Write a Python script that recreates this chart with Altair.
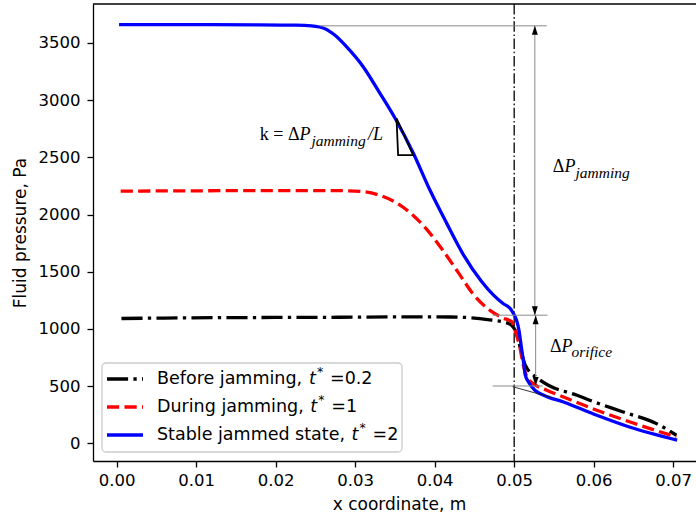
import altair as alt
import pandas as pd

# ---------------------------------------------------------------- data
# Fluid pressure along the channel axis (x in m, pressure in Pa)
x_before = [0.0006, 0.006, 0.012, 0.020, 0.028, 0.036, 0.042, 0.0450, 0.0470, 0.0486,
            0.0497, 0.0503, 0.0509, 0.0514, 0.0530, 0.0543, 0.0579, 0.0595, 0.0637,
            0.0679, 0.0704]
p_before = [1091, 1095, 1098, 1100, 1102, 1105, 1104, 1095, 1078, 1062,
            1030, 960, 800, 682, 566, 507, 420, 376, 274,
            172, 70]

x_during = [0.0005, 0.008, 0.016, 0.024, 0.028, 0.031, 0.033, 0.035, 0.037, 0.039,
            0.041, 0.043, 0.045, 0.047, 0.0486, 0.0497, 0.0501, 0.0507, 0.0512,
            0.0516, 0.0524, 0.0541, 0.0562, 0.0604, 0.0646, 0.0704]
p_during = [2205, 2207, 2209, 2210, 2209, 2200, 2170, 2110, 2010, 1870,
            1690, 1490, 1290, 1160, 1095, 1062, 989, 843, 668,
            580, 522, 464, 405, 289, 186, 55]

x_stable = [0.0003, 0.006, 0.012, 0.018, 0.0225, 0.0245, 0.0262, 0.0275, 0.0289, 0.0310,
            0.0331, 0.0350, 0.0373, 0.0394, 0.0415, 0.0436, 0.0459, 0.0474, 0.0486,
            0.0495, 0.0499, 0.0503, 0.0506, 0.0509, 0.0512, 0.0514, 0.0518, 0.0526,
            0.0537, 0.0562, 0.0604, 0.0646, 0.0705]
p_stable = [3660, 3660, 3660, 3659, 3656, 3649, 3625, 3565, 3468, 3293,
            3062, 2844, 2538, 2214, 1925, 1650, 1415, 1295, 1222,
            1178, 1135, 1076, 989, 843, 697, 595, 536, 464,
            420, 361, 245, 140, 28]

series_names = ["Before jamming", "During jamming", "Stable jammed state"]
t_star = ["0.2", "1", "2"]
colors = ["black", "#ff0000", "#0000ff"]

x_ticks = [0.00, 0.01, 0.02, 0.03, 0.04, 0.05, 0.06, 0.07]
p_ticks = [0, 500, 1000, 1500, 2000, 2500, 3000, 3500]

# pressure levels used for the drop annotations
orifice_x = 0.05
p_upstream = 3650
p_throat = 1120
p_downstream = 501

# ---------------------------------------------------------------- layout
SANS = "DejaVu Sans"
SERIF = "Liberation Serif"
W, H = 603, 457
X0, X1 = -0.00298, 0.07287
P0, P1 = -155, 3841
KX = W / (X1 - X0)
KY = H / (P1 - P0)


def xd(px):
    """plot-area pixel column -> metres"""
    return X0 + px / KX


def pd_(py):
    """plot-area pixel row -> pascals"""
    return P1 - py / KY


xs = alt.Scale(domain=[X0, X1], nice=False, zero=False)
ys = alt.Scale(domain=[P0, P1], nice=False, zero=False)

x_axis = alt.Axis(values=x_ticks, format=".2f", title="x coordinate, m",
                  grid=False, labelFont=SANS, labelFontSize=16.5, labelColor="black",
                  labelBaseline="alphabetic", labelPadding=18, labelFlush=False,
                  labelOverlap=False, tickSize=6, tickWidth=1.3, tickColor="black",
                  domainColor="black", domainWidth=1.3,
                  titleFont=SANS, titleFontSize=17, titleFontWeight="normal",
                  titleColor="black", titleX=306, titleY=48.5,
                  titleBaseline="alphabetic")
y_axis = alt.Axis(values=p_ticks, format="d", title="Fluid pressure, Pa",
                  grid=False, labelFont=SANS, labelFontSize=16.5, labelColor="black",
                  labelPadding=7, labelOverlap=False, tickSize=6, tickWidth=1.3,
                  tickColor="black", domainColor="black", domainWidth=1.3,
                  titleFont=SANS, titleFontSize=17, titleFontWeight="normal",
                  titleColor="black", titleX=-73, titleY=H / 2, titleAngle=-90,
                  titleBaseline="middle", titleAlign="center")


def X(field="x"):
    return alt.X(f"{field}:Q", scale=xs, axis=x_axis)


def Y(field="p"):
    return alt.Y(f"{field}:Q", scale=ys, axis=y_axis)


DASHDOT = [21.1, 5.3, 3.3, 5.3]
DASHED = [12.2, 5.3]
dashes = [DASHDOT, DASHED, None]


def line_style(i, width=3.3):
    kw = dict(color=colors[i], strokeWidth=width, strokeCap="butt")
    if dashes[i] is not None:
        kw["strokeDash"] = dashes[i]
    return kw


layers = []

# top frame edge
top_df = pd.DataFrame({"x": [X0], "x2": [X1], "p": [P1]})
layers.append(alt.Chart(top_df).mark_rule(color="black", strokeWidth=1.3)
              .encode(x=X(), x2="x2:Q", y=Y()))

# orifice position
layers.append(alt.Chart(pd.DataFrame({"x": [orifice_x]}))
              .mark_rule(color="black", strokeWidth=1.3, strokeDash=[10.5, 2.6, 1.6, 2.6])
              .encode(x=X()))

# pressure profiles
profiles = [(x_before, p_before), (x_during, p_during), (x_stable, p_stable)]
for i, (xv, pv) in enumerate(profiles):
    df = pd.DataFrame({"x": xv, "p": pv})
    layers.append(alt.Chart(df).mark_line(interpolate="monotone", **line_style(i))
                  .encode(x=X(), y=Y()))

# reference levels for the pressure drops
h_guides = pd.DataFrame({
    "x": [0.0256, 0.0473, 0.0473],
    "x2": [0.0541, 0.0542, 0.0536],
    "p": [p_upstream, p_throat, p_downstream],
})
layers.append(alt.Chart(h_guides).mark_rule(color="#8a8a8a", strokeWidth=1)
              .encode(x=X(), x2="x2:Q", y=Y()))

# double-headed arrows for the two drops
shafts = pd.DataFrame({
    "x": [0.0526, 0.0527],
    "p": [p_upstream, p_throat],
    "p2": [p_throat, p_downstream],
})
layers.append(alt.Chart(shafts).mark_rule(color="#8a8a8a", strokeWidth=1)
              .encode(x=X(), y=Y(), y2="p2:Q"))
heads_up = pd.DataFrame({"x": [0.0526, 0.0527], "p": [p_upstream, p_throat]})
heads_dn = pd.DataFrame({"x": [0.0526, 0.0527], "p": [p_throat, p_downstream]})
layers.append(alt.Chart(heads_up)
              .mark_point(shape="M0,0 L-0.33,1 L0.33,1 Z", size=324, filled=True,
                          color="black", opacity=1, strokeWidth=0)
              .encode(x=X(), y=Y()))
layers.append(alt.Chart(heads_dn)
              .mark_point(shape="M0,0 L-0.33,-1 L0.33,-1 Z", size=324, filled=True,
                          color="black", opacity=1, strokeWidth=0)
              .encode(x=X(), y=Y()))

# tangent of the downstream branch, extended back to the orifice
tangent = pd.DataFrame({"x": [0.0498], "x2": [0.0548], "p": [495], "p2": [398]})
layers.append(alt.Chart(tangent).mark_rule(color="#222222", strokeWidth=0.9)
              .encode(x=X(), x2="x2:Q", y=Y(), y2="p2:Q"))

# slope triangle on the jammed-state profile
tri = pd.DataFrame({"x": [0.0352, 0.0354, 0.0373, 0.0352],
                    "p": [2841, 2520, 2520, 2841], "k": [0, 1, 2, 3]})
layers.append(alt.Chart(tri).mark_line(color="black", strokeWidth=1.8)
              .encode(x=X(), y=Y(), order="k:Q"))

# math-style labels: upright symbols end where the italic P starts
p_pos_x = [0.02300, 0.05632, 0.05595]
p_pos_p = [2695, 2415, 840]
up_txt = pd.DataFrame({"x": p_pos_x, "p": p_pos_p, "t": ["k = Δ", "Δ", "Δ"]})
it_txt = pd.DataFrame({"x": p_pos_x + [0.03160],
                       "p": p_pos_p + [2695],
                       "t": ["P", "P", "P", "/L"]})
sub_txt = pd.DataFrame({"x": [0.02449, 0.05772, 0.05722],
                        "p": [2643, 2363, 796],
                        "t": ["jamming", "jamming", "orifice"]})
layers.append(alt.Chart(up_txt).mark_text(font=SERIF, fontSize=18, align="right",
                                          baseline="middle", color="black")
              .encode(x=X(), y=Y(), text="t:N"))
layers.append(alt.Chart(it_txt).mark_text(font=SERIF, fontSize=18, fontStyle="italic",
                                          align="left", baseline="middle", color="black")
              .encode(x=X(), y=Y(), text="t:N"))
layers.append(alt.Chart(sub_txt).mark_text(font=SERIF, fontSize=15.5, fontStyle="italic",
                                           align="left", baseline="middle", color="black")
              .encode(x=X(), y=Y(), text="t:N"))

# ---------------------------------------------------------------- legend
row_py = [375, 403, 431]
box = pd.DataFrame({"x": [xd(9)], "x2": [xd(309)], "p": [pd_(359)], "p2": [pd_(448)]})
layers.append(alt.Chart(box).mark_rect(fill="white", fillOpacity=0.8, stroke="#cccccc",
                                       strokeWidth=1.3, cornerRadius=4)
              .encode(x=X(), x2="x2:Q", y=Y(), y2="p2:Q"))
for i in range(3):
    sym = pd.DataFrame({"x": [xd(14)], "x2": [xd(50)], "p": [pd_(row_py[i])]})
    layers.append(alt.Chart(sym).mark_rule(**line_style(i))
                  .encode(x=X(), x2="x2:Q", y=Y()))

LEG_FS = 17.5
prefix_px = [151, 152.3, 193.6]
t_px = [64 + w + 1 for w in prefix_px]
lab_prefix = pd.DataFrame({"x": [xd(64)] * 3, "p": [pd_(v) for v in row_py],
                           "t": [f"{n}, " for n in series_names]})
lab_t = pd.DataFrame({"x": [xd(v) for v in t_px], "p": [pd_(v) for v in row_py],
                      "t": ["t"] * 3})
lab_star = pd.DataFrame({"x": [xd(v + 8) for v in t_px], "p": [pd_(v) for v in row_py],
                         "t": ["*"] * 3})
lab_val = pd.DataFrame({"x": [xd(v + 21) for v in t_px], "p": [pd_(v) for v in row_py],
                        "t": [f"={s}" for s in t_star]})
for df, extra in [(lab_prefix, {}), (lab_t, {"fontStyle": "italic"}),
                  (lab_star, {"fontSize": 12.5, "dy": -7}), (lab_val, {})]:
    kw = dict(font=SANS, fontSize=LEG_FS, align="left", baseline="middle", color="black")
    kw.update(extra)
    layers.append(alt.Chart(df).mark_text(**kw).encode(x=X(), y=Y(), text="t:N"))

chart = (
    alt.layer(*layers)
    .properties(width=W, height=H, autosize=alt.AutoSizeParams(type="none"),
                padding={"left": 93, "top": 4, "right": 0, "bottom": 56},
                background="white")
    .configure_view(stroke=None)
)

chart.save("out.html", embed_options={"renderer": "svg", "actions": False})
